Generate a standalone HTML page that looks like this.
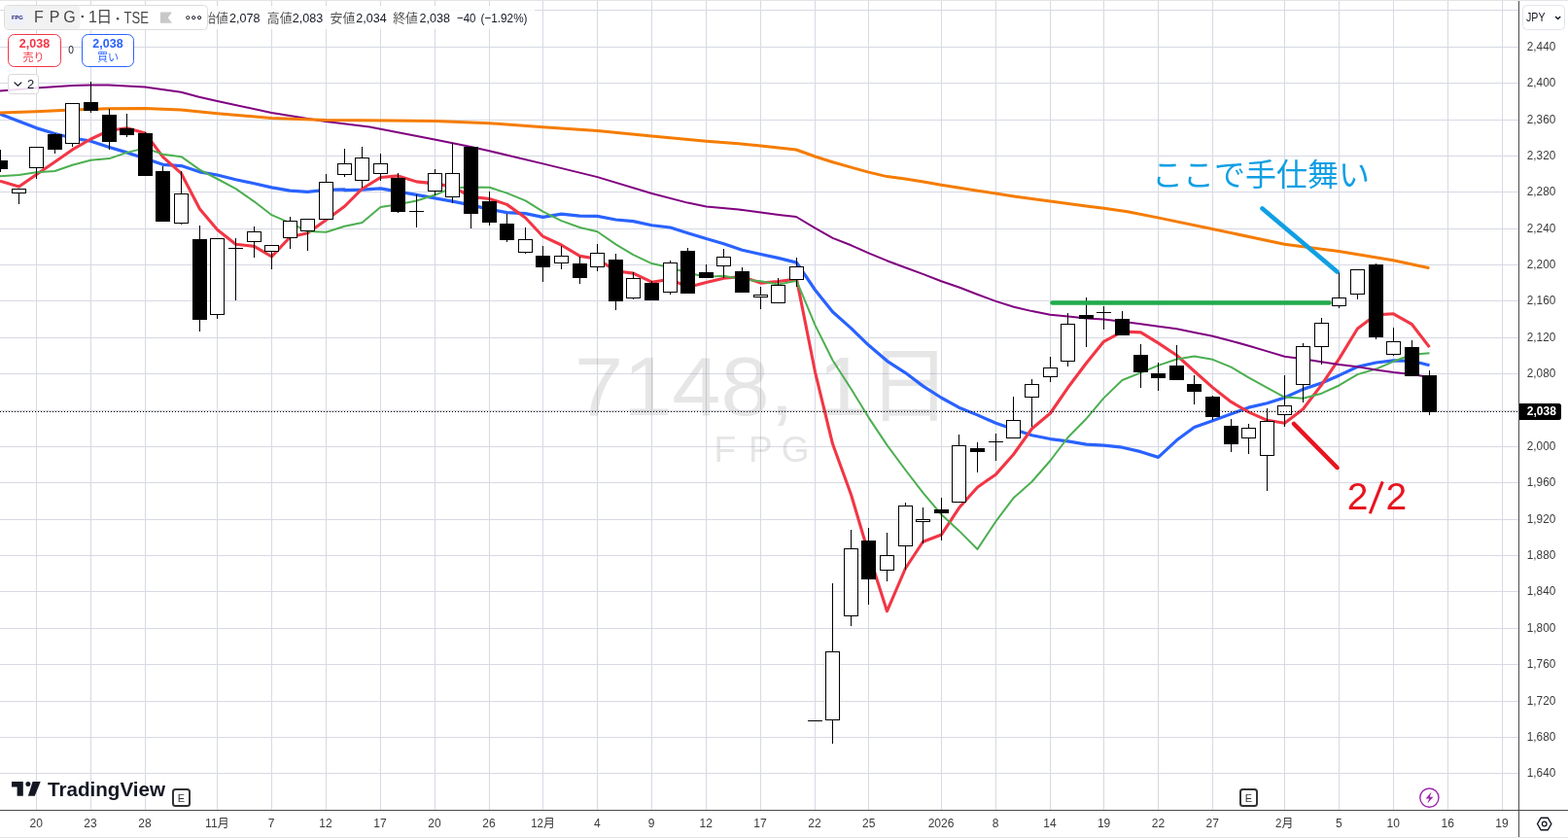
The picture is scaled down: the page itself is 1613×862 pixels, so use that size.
<!DOCTYPE html>
<html><head><meta charset="utf-8"><title>FPG chart</title>
<style>html,body{margin:0;padding:0;background:#fff;width:1613px;height:862px;overflow:hidden;font-family:"Liberation Sans",sans-serif}</style>
</head><body>
<svg width="1613" height="862" viewBox="0 0 1613 862" style="position:absolute;left:0;top:0;display:block;will-change:transform">
<rect width="1613" height="862" fill="#fff"/>
<text x="591" y="426.8" font-family="Liberation Sans, sans-serif" font-size="85" fill="#e6e6e6" textLength="301" lengthAdjust="spacingAndGlyphs">7148, 1</text>
<text x="893" y="426.8" font-family="'Liberation Sans', 'Noto Sans CJK JP', sans-serif" font-size="85" fill="#e6e6e6">日</text>
<text x="734.5" y="474.5" font-family="Liberation Sans, sans-serif" font-size="37" fill="#e6e6e6">F</text>
<text x="770" y="474.5" font-family="Liberation Sans, sans-serif" font-size="37" fill="#e6e6e6">P</text>
<text x="803.8" y="474.5" font-family="Liberation Sans, sans-serif" font-size="37" fill="#e6e6e6">G</text>
<path d="M0 795.5H1562.5M0 758.5H1562.5M0 721.5H1562.5M0 683.5H1562.5M0 646.5H1562.5M0 608.5H1562.5M0 571.5H1562.5M0 534.5H1562.5M0 496.5H1562.5M0 459.5H1562.5M0 422.5H1562.5M0 384.5H1562.5M0 347.5H1562.5M0 309.5H1562.5M0 272.5H1562.5M0 235.5H1562.5M0 197.5H1562.5M0 160.5H1562.5M0 123.5H1562.5M0 85.5H1562.5M0 48.5H1562.5M0 10.5H1562.5M37.5 0V833.5M93.5 0V833.5M149.5 0V833.5M223.5 0V833.5M279.5 0V833.5M335.5 0V833.5M391.5 0V833.5M447.5 0V833.5M503.5 0V833.5M558.5 0V833.5M614.5 0V833.5M670.5 0V833.5M726.5 0V833.5M782.5 0V833.5M838.5 0V833.5M893.5 0V833.5M968.5 0V833.5M1024.5 0V833.5M1080.5 0V833.5M1135.5 0V833.5M1191.5 0V833.5M1247.5 0V833.5M1321.5 0V833.5M1377.5 0V833.5M1433.5 0V833.5M1489.5 0V833.5M1545.5 0V833.5" stroke="rgba(100,110,150,0.26)" stroke-width="1" fill="none" shape-rendering="crispEdges"/>
<rect x="205" y="6" width="345" height="24" fill="#fff" opacity="0.8"/>
<path d="M0 117.2 L37.2 131.6 L56.4 137.5 L74.5 142 L93.4 145.2 L112.5 151.4 L130.6 156.9 L149.2 163.1 L167.6 169.3 L186.5 170.6 L205.3 176.8 L223.5 180 L242.6 184.7 L261.5 188.7 L279.6 192.9 L298.2 196.1 L316.3 197.4 L335.7 195.4 L354.3 194.9 L354.5 195.72 L372.5 195.15 L391.5 193.85 L409.5 197.16 L428.5 200.34 L447.5 203.94 L465.5 207.19 L484.5 210.88 L503.5 215.37 L521.5 218.67 L540.5 219.61 L558.5 223.38 L577.5 220.12 L596.5 222.14 L614.5 222.4 L633.5 225.97 L651.5 227.68 L670.5 231.74 L689.5 233.99 L707.5 239.71 L726.5 245.57 L744.5 250.67 L763.5 257.26 L782.5 261.56 L800.5 265.34 L819.5 270.13 L838.5 298.26 L856.5 320.81 L875.5 337.61 L893.5 355.06 L912.5 371.31 L931.5 383.59 L949.5 397.13 L968.5 409.25 L986.5 419.15 L1005.5 426.89 L1024.5 435.28 L1042.5 441.46 L1061.5 447.71 L1080.5 451.55 L1098.5 453.94 L1117.5 457.09 L1135.5 458.14 L1154.5 460.19 L1173.5 464.66 L1191.5 470.38 L1210.5 452.84 L1228.5 439.44 L1247.5 432.66 L1266.5 425.71 L1284.5 419.16 L1303.5 414.81 L1321.5 408.95 L1340.5 400.38 L1359.5 394.06 L1377.5 386.16 L1396.5 377.31 L1415.5 373.03 L1433.5 370.82 L1452.5 371.24 L1470.5 375.74" stroke="#2962ff" stroke-width="3.2" fill="none" stroke-linejoin="round" stroke-linecap="butt"/>
<path d="M0 186.2 L19.5 192.1 L37.5 179.6 L56.5 166.4 L74.5 153.9 L93.5 143 L112.5 134.2 L130.5 131.68 L149.5 137.08 L167.5 161.32 L186.5 178.44 L205.5 215.02 L223.5 236.3 L242.5 251.24 L261.5 253.34 L279.5 263.96 L298.5 243.7 L316.5 239.76 L335.5 226.16 L354.5 212.24 L372.5 194.24 L391.5 182.48 L409.5 180.9 L428.5 186.88 L447.5 188.88 L465.5 192.12 L484.5 202.34 L503.5 204.52 L521.5 210.38 L540.5 223.98 L558.5 243.2 L577.5 251.98 L596.5 263.4 L614.5 266.18 L633.5 278.8 L651.5 281.14 L670.5 290.18 L689.5 287.16 L707.5 295.4 L726.5 290.62 L744.5 286.2 L763.5 284.54 L782.5 291.14 L800.5 289.42 L819.5 287.12 L838.5 382.52 L856.5 456.56 L875.5 508.74 L893.5 569.24 L912.5 628.68 L931.5 584.5 L949.5 557.24 L968.5 549.94 L986.5 522.54 L1005.5 501.16 L1024.5 487.9 L1042.5 467.5 L1061.5 441.02 L1080.5 425 L1098.5 398.8 L1117.5 373.46 L1135.5 351.28 L1154.5 341.08 L1173.5 341.88 L1191.5 352.86 L1210.5 365.52 L1228.5 381.76 L1247.5 398.6 L1266.5 413.44 L1284.5 423.8 L1303.5 432.34 L1321.5 435.26 L1340.5 420.8 L1359.5 395.92 L1377.5 369.16 L1396.5 337.94 L1415.5 323.84 L1433.5 322.82 L1452.5 333.7 L1470.5 357.12" stroke="#f23645" stroke-width="3.1" fill="none" stroke-linejoin="round" stroke-linecap="butt"/>
<path d="M0 181.2 L19.4 180 L37.2 177.2 L56.4 176 L74.5 169.8 L93.4 164.8 L112.5 163.1 L130.6 156.9 L149.2 152.4 L167.5 158.64 L186.5 161.19 L205.5 174.61 L223.5 183.99 L242.5 194.16 L261.5 207.33 L279.5 221.2 L298.5 229.36 L316.5 238.03 L335.5 238.7 L354.5 232.79 L372.5 229.1 L391.5 213.09 L409.5 210.33 L428.5 206.52 L447.5 200.56 L465.5 193.18 L484.5 192.41 L503.5 192.71 L521.5 198.63 L540.5 206.43 L558.5 217.66 L577.5 227.16 L596.5 233.96 L614.5 238.28 L633.5 251.39 L651.5 262.17 L670.5 271.08 L689.5 275.28 L707.5 280.79 L726.5 284.71 L744.5 283.67 L763.5 287.36 L782.5 289.15 L800.5 292.41 L819.5 288.87 L838.5 334.36 L856.5 370.55 L875.5 399.94 L893.5 429.33 L912.5 457.9 L931.5 483.51 L949.5 506.9 L968.5 529.34 L986.5 545.89 L1005.5 564.92 L1024.5 536.2 L1042.5 512.37 L1061.5 495.48 L1080.5 473.77 L1098.5 449.98 L1117.5 430.68 L1135.5 409.39 L1154.5 391.05 L1173.5 383.44 L1191.5 375.83 L1210.5 369.49 L1228.5 366.52 L1247.5 369.84 L1266.5 377.66 L1284.5 388.33 L1303.5 398.93 L1321.5 408.51 L1340.5 409.7 L1359.5 404.68 L1377.5 396.48 L1396.5 385.14 L1415.5 379.55 L1433.5 371.81 L1452.5 364.81 L1470.5 363.14" stroke="#4caf50" stroke-width="2" fill="none" stroke-linejoin="round" stroke-linecap="butt"/>
<path d="M0 93.6 L37.2 90.4 L74.5 87.9 L93.4 87.4 L111.7 87.6 L149 89.4 L186.2 94.8 L204.8 99.8 L223.5 104 L279.3 115.9 L335.2 125.1 L380 130.4 L447 143.6 L484.3 151 L503.4 155.3 L558.5 168.4 L614.6 182.1 L670.5 199 L707.5 208.6 L726.6 212.4 L760 215.6 L782.6 218.6 L801 221 L819.1 223 L838.5 234.7 L856.6 244.9 L875.5 252.3 L893.6 260.3 L912.5 268.2 L931.3 275.2 L950 282.1 L968.3 289.3 L987.2 295.8 L1005.8 303 L1024.4 309.9 L1043 315.7 L1061.7 320.1 L1080.3 323.8 L1098.9 325.6 L1117.6 327.5 L1135.5 328.5 L1154.4 330.8 L1173.5 333.3 L1191.6 335.8 L1210.5 338.3 L1228.6 342 L1247.5 345.7 L1266.6 350.7 L1284.7 355.7 L1303.6 361.4 L1321.5 366.8 L1340.6 369.3 L1359.4 372.3 L1377.6 375 L1396.4 377.3 L1415.6 380.5 L1433.7 383 L1452.3 385 L1470.5 388" stroke="#800080" stroke-width="2.0" fill="none" stroke-linejoin="round" stroke-linecap="butt"/>
<path d="M0 115.9 L37.2 114.7 L74.5 113 L111.7 111.7 L149 111.5 L186.2 113 L223.5 116.7 L279.3 121.4 L335.2 123.4 L400 124.1 L447 124.5 L503.4 126.7 L558.5 130.7 L614.6 134.4 L670.5 139.9 L726.6 145.3 L760 147.8 L782.6 150 L819.1 154 L838.5 161 L856.6 166.7 L875.5 172.1 L893.6 177.1 L912.5 181.6 L931.3 184.1 L950 187 L968.3 190.3 L987.2 193.2 L1005.8 196.2 L1024.4 199 L1043 201.9 L1061.7 204.4 L1080.3 206.9 L1098.9 209.4 L1117.5 211.9 L1135.7 214.3 L1160 217.8 L1191 223.9 L1246.9 235.5 L1321.4 251.2 L1377.3 258.6 L1433.1 267.8 L1470.4 275.7" stroke="#f57c00" stroke-width="3.0" fill="none" stroke-linejoin="round" stroke-linecap="butt"/>
<path d="M0 154h1V165h-1zM0 174h1V177h-1zM19 199h1V210h-1zM37 173h1V184h-1zM56 137h1V138h-1zM56 154h1V158h-1zM74 148h1V151h-1zM93 84h1V105h-1zM93 114h1V116h-1zM112 112h1V118h-1zM112 146h1V154h-1zM130 117h1V132h-1zM130 139h1V141h-1zM149 136h1V137h-1zM167 171h1V176h-1zM186 176h1V199h-1zM186 230h1V231h-1zM205 232h1V246h-1zM205 329h1V341h-1zM223 324h1V328h-1zM235 255h15v1h-15zM242 245h1V309h-1zM261 233h1V238h-1zM261 249h1V265h-1zM279 259h1V277h-1zM298 223h1V227h-1zM298 245h1V256h-1zM316 238h1V258h-1zM335 179h1V187h-1zM354 153h1V168h-1zM354 180h1V182h-1zM372 151h1V162h-1zM372 186h1V193h-1zM391 158h1V168h-1zM391 179h1V186h-1zM409 178h1V183h-1zM409 218h1V219h-1zM421 217h15v1h-15zM428 200h1V234h-1zM447 174h1V178h-1zM447 197h1V201h-1zM465 147h1V178h-1zM465 203h1V209h-1zM484 220h1V235h-1zM503 197h1V207h-1zM503 229h1V232h-1zM521 220h1V230h-1zM521 247h1V249h-1zM540 234h1V246h-1zM540 260h1V261h-1zM558 253h1V263h-1zM558 275h1V290h-1zM577 253h1V263h-1zM577 271h1V277h-1zM596 264h1V271h-1zM596 286h1V292h-1zM614 251h1V260h-1zM614 275h1V279h-1zM633 261h1V267h-1zM633 310h1V319h-1zM651 280h1V286h-1zM651 307h1V308h-1zM670 289h1V291h-1zM689 268h1V270h-1zM689 301h1V303h-1zM707 255h1V258h-1zM726 272h1V280h-1zM744 256h1V264h-1zM744 274h1V286h-1zM763 275h1V279h-1zM782 295h1V303h-1zM782 306h1V318h-1zM800 286h1V293h-1zM819 265h1V274h-1zM819 288h1V295h-1zM831 741h15v1h-15zM856 600h1V670h-1zM856 741h1V765h-1zM875 545h1V564h-1zM875 634h1V644h-1zM893 543h1V556h-1zM893 596h1V622h-1zM912 548h1V571h-1zM912 587h1V598h-1zM931 517h1V520h-1zM931 562h1V586h-1zM949 522h1V534h-1zM949 537h1V559h-1zM968 512h1V524h-1zM968 528h1V556h-1zM986 447h1V458h-1zM1005 455h1V461h-1zM1005 465h1V486h-1zM1017 454h15v1h-15zM1024 446h1V474h-1zM1042 408h1V432h-1zM1061 390h1V395h-1zM1061 409h1V439h-1zM1080 367h1V378h-1zM1080 388h1V393h-1zM1098 322h1V333h-1zM1098 372h1V377h-1zM1117 306h1V324h-1zM1117 328h1V357h-1zM1128 321h15v1h-15zM1135 315h1V339h-1zM1154 320h1V328h-1zM1173 354h1V365h-1zM1173 383h1V399h-1zM1191 373h1V384h-1zM1191 389h1V402h-1zM1210 355h1V376h-1zM1228 386h1V395h-1zM1228 403h1V416h-1zM1247 407h1V408h-1zM1247 429h1V432h-1zM1266 431h1V438h-1zM1266 457h1V465h-1zM1284 436h1V440h-1zM1284 451h1V467h-1zM1303 420h1V433h-1zM1303 469h1V505h-1zM1321 386h1V417h-1zM1321 427h1V439h-1zM1340 353h1V356h-1zM1340 396h1V414h-1zM1359 327h1V332h-1zM1359 357h1V375h-1zM1377 280h1V306h-1zM1377 315h1V317h-1zM1396 303h1V308h-1zM1415 271h1V272h-1zM1415 347h1V349h-1zM1433 337h1V351h-1zM1433 365h1V366h-1zM1452 350h1V357h-1zM1470 381h1V386h-1zM1470 424h1V427h-1z" fill="#000" shape-rendering="crispEdges"/>
<path d="M-7 165h15V174h-15zM49 138h15V154h-15zM86 105h15V114h-15zM105 118h15V146h-15zM123 132h15V139h-15zM142 137h15V181h-15zM160 176h15V228h-15zM198 246h15V329h-15zM402 183h15V218h-15zM477 151h15V220h-15zM496 207h15V229h-15zM514 230h15V247h-15zM551 263h15V275h-15zM589 271h15V286h-15zM626 267h15V310h-15zM663 291h15V309h-15zM700 258h15V302h-15zM719 280h15V286h-15zM756 279h15V301h-15zM886 556h15V596h-15zM961 524h15V528h-15zM998 461h15V465h-15zM1110 324h15V328h-15zM1147 328h15V345h-15zM1166 365h15V383h-15zM1184 384h15V389h-15zM1203 376h15V391h-15zM1221 395h15V403h-15zM1240 408h15V429h-15zM1259 438h15V457h-15zM1408 272h15V347h-15zM1445 357h15V387h-15zM1463 386h15V424h-15z" fill="#000" shape-rendering="crispEdges"/>
<path d="M12.5 194.5h14V198.5h-14zM30.5 151.5h14V172.5h-14zM67.5 106.5h14V147.5h-14zM179.5 199.5h14V229.5h-14zM216.5 245.5h14V323.5h-14zM254.5 238.5h14V248.5h-14zM272.5 252.5h14V258.5h-14zM291.5 227.5h14V244.5h-14zM309.5 225.5h14V237.5h-14zM328.5 187.5h14V225.5h-14zM347.5 168.5h14V179.5h-14zM365.5 162.5h14V185.5h-14zM384.5 168.5h14V178.5h-14zM440.5 178.5h14V196.5h-14zM458.5 178.5h14V202.5h-14zM533.5 246.5h14V259.5h-14zM570.5 263.5h14V270.5h-14zM607.5 260.5h14V274.5h-14zM644.5 286.5h14V306.5h-14zM682.5 270.5h14V300.5h-14zM737.5 264.5h14V273.5h-14zM775.5 303.5h14V305.5h-14zM793.5 293.5h14V311.5h-14zM812.5 274.5h14V287.5h-14zM849.5 670.5h14V740.5h-14zM868.5 564.5h14V633.5h-14zM905.5 571.5h14V586.5h-14zM924.5 520.5h14V561.5h-14zM942.5 534.5h14V536.5h-14zM979.5 458.5h14V516.5h-14zM1035.5 432.5h14V450.5h-14zM1054.5 395.5h14V408.5h-14zM1073.5 378.5h14V387.5h-14zM1091.5 333.5h14V371.5h-14zM1277.5 440.5h14V450.5h-14zM1296.5 433.5h14V468.5h-14zM1314.5 417.5h14V426.5h-14zM1333.5 356.5h14V395.5h-14zM1352.5 332.5h14V356.5h-14zM1370.5 306.5h14V314.5h-14zM1389.5 277.5h14V302.5h-14zM1426.5 351.5h14V364.5h-14z" fill="#fff" stroke="#000" stroke-width="1" shape-rendering="crispEdges"/>
<path d="M1082.5 311.5H1367.5" stroke="#22ab4a" stroke-width="4.6" stroke-linecap="round" fill="none"/>
<path d="M1298.5 214.5L1375.5 279.5" stroke="#109fe3" stroke-width="4.6" stroke-linecap="round" fill="none"/>
<path d="M1331 436L1375.5 481" stroke="#e8141f" stroke-width="4.6" stroke-linecap="round" fill="none"/>
<text x="1185" y="191" font-family="'Liberation Sans', 'Noto Sans CJK JP', sans-serif" font-size="32" fill="#109fe3" textLength="224" lengthAdjust="spacingAndGlyphs">ここで手仕舞い</text>
<text x="1385.7" y="524.3" font-family="Liberation Sans, sans-serif" font-size="39" fill="#e8141f">2</text>
<text x="1425.6" y="524.3" font-family="Liberation Sans, sans-serif" font-size="39" fill="#e8141f">2</text>
<path d="M1422.3 495.4L1409.3 528.2" stroke="#e8141f" stroke-width="3.1" fill="none"/>
<path d="M0 423.5H1562.5" stroke="#000" stroke-width="1" stroke-dasharray="1 2" fill="none" shape-rendering="crispEdges"/>
<rect x="1563" y="0" width="50.5" height="862" fill="#fff"/>
<rect x="0" y="834" width="1613" height="28.5" fill="#fff"/>
<path d="M1562.5 0V862M0 833.5H1613" stroke="#4a4a4a" stroke-width="1" fill="none" shape-rendering="crispEdges"/>
<text x="1570.8" y="798.8" font-family="Liberation Sans, sans-serif" font-size="12.5" fill="#3a3a3a" textLength="29.4" lengthAdjust="spacingAndGlyphs">1,640</text>
<text x="1570.8" y="761.8" font-family="Liberation Sans, sans-serif" font-size="12.5" fill="#3a3a3a" textLength="29.4" lengthAdjust="spacingAndGlyphs">1,680</text>
<text x="1570.8" y="724.8" font-family="Liberation Sans, sans-serif" font-size="12.5" fill="#3a3a3a" textLength="29.4" lengthAdjust="spacingAndGlyphs">1,720</text>
<text x="1570.8" y="686.8" font-family="Liberation Sans, sans-serif" font-size="12.5" fill="#3a3a3a" textLength="29.4" lengthAdjust="spacingAndGlyphs">1,760</text>
<text x="1570.8" y="649.8" font-family="Liberation Sans, sans-serif" font-size="12.5" fill="#3a3a3a" textLength="29.4" lengthAdjust="spacingAndGlyphs">1,800</text>
<text x="1570.8" y="611.8" font-family="Liberation Sans, sans-serif" font-size="12.5" fill="#3a3a3a" textLength="29.4" lengthAdjust="spacingAndGlyphs">1,840</text>
<text x="1570.8" y="574.8" font-family="Liberation Sans, sans-serif" font-size="12.5" fill="#3a3a3a" textLength="29.4" lengthAdjust="spacingAndGlyphs">1,880</text>
<text x="1570.8" y="537.8" font-family="Liberation Sans, sans-serif" font-size="12.5" fill="#3a3a3a" textLength="29.4" lengthAdjust="spacingAndGlyphs">1,920</text>
<text x="1570.8" y="499.8" font-family="Liberation Sans, sans-serif" font-size="12.5" fill="#3a3a3a" textLength="29.4" lengthAdjust="spacingAndGlyphs">1,960</text>
<text x="1570.8" y="462.8" font-family="Liberation Sans, sans-serif" font-size="12.5" fill="#3a3a3a" textLength="29.4" lengthAdjust="spacingAndGlyphs">2,000</text>
<text x="1570.8" y="387.8" font-family="Liberation Sans, sans-serif" font-size="12.5" fill="#3a3a3a" textLength="29.4" lengthAdjust="spacingAndGlyphs">2,080</text>
<text x="1570.8" y="350.8" font-family="Liberation Sans, sans-serif" font-size="12.5" fill="#3a3a3a" textLength="29.4" lengthAdjust="spacingAndGlyphs">2,120</text>
<text x="1570.8" y="312.8" font-family="Liberation Sans, sans-serif" font-size="12.5" fill="#3a3a3a" textLength="29.4" lengthAdjust="spacingAndGlyphs">2,160</text>
<text x="1570.8" y="275.8" font-family="Liberation Sans, sans-serif" font-size="12.5" fill="#3a3a3a" textLength="29.4" lengthAdjust="spacingAndGlyphs">2,200</text>
<text x="1570.8" y="238.8" font-family="Liberation Sans, sans-serif" font-size="12.5" fill="#3a3a3a" textLength="29.4" lengthAdjust="spacingAndGlyphs">2,240</text>
<text x="1570.8" y="200.8" font-family="Liberation Sans, sans-serif" font-size="12.5" fill="#3a3a3a" textLength="29.4" lengthAdjust="spacingAndGlyphs">2,280</text>
<text x="1570.8" y="163.8" font-family="Liberation Sans, sans-serif" font-size="12.5" fill="#3a3a3a" textLength="29.4" lengthAdjust="spacingAndGlyphs">2,320</text>
<text x="1570.8" y="126.8" font-family="Liberation Sans, sans-serif" font-size="12.5" fill="#3a3a3a" textLength="29.4" lengthAdjust="spacingAndGlyphs">2,360</text>
<text x="1570.8" y="88.8" font-family="Liberation Sans, sans-serif" font-size="12.5" fill="#3a3a3a" textLength="29.4" lengthAdjust="spacingAndGlyphs">2,400</text>
<text x="1570.8" y="51.8" font-family="Liberation Sans, sans-serif" font-size="12.5" fill="#3a3a3a" textLength="29.4" lengthAdjust="spacingAndGlyphs">2,440</text>
<path d="M1563 415h40.5a2.5 2.5 0 0 1 2.5 2.5v12a2.5 2.5 0 0 1 -2.5 2.5h-40.5z" fill="#000"/>
<text x="1570.8" y="427.2" font-family="Liberation Sans, sans-serif" font-size="12.6" font-weight="bold" fill="#fff" textLength="30" lengthAdjust="spacingAndGlyphs">2,038</text>
<text x="37.2" y="851.3" font-family="Liberation Sans, sans-serif" font-size="12" fill="#3a3a3a" text-anchor="middle">20</text>
<text x="93" y="851.3" font-family="Liberation Sans, sans-serif" font-size="12" fill="#3a3a3a" text-anchor="middle">23</text>
<text x="149" y="851.3" font-family="Liberation Sans, sans-serif" font-size="12" fill="#3a3a3a" text-anchor="middle">28</text>
<text x="211" y="851.3" font-family="Liberation Sans, sans-serif" font-size="12" fill="#3a3a3a" textLength="12.8" lengthAdjust="spacingAndGlyphs">11</text>
<text x="223.8" y="851.3" font-family="'Liberation Sans', 'Noto Sans CJK JP', sans-serif" font-size="12" fill="#3a3a3a">月</text>
<text x="279.2" y="851.3" font-family="Liberation Sans, sans-serif" font-size="12" fill="#3a3a3a" text-anchor="middle">7</text>
<text x="335" y="851.3" font-family="Liberation Sans, sans-serif" font-size="12" fill="#3a3a3a" text-anchor="middle">12</text>
<text x="391" y="851.3" font-family="Liberation Sans, sans-serif" font-size="12" fill="#3a3a3a" text-anchor="middle">17</text>
<text x="447" y="851.3" font-family="Liberation Sans, sans-serif" font-size="12" fill="#3a3a3a" text-anchor="middle">20</text>
<text x="503" y="851.3" font-family="Liberation Sans, sans-serif" font-size="12" fill="#3a3a3a" text-anchor="middle">26</text>
<text x="546.2" y="851.3" font-family="Liberation Sans, sans-serif" font-size="12" fill="#3a3a3a" textLength="12.8" lengthAdjust="spacingAndGlyphs">12</text>
<text x="559" y="851.3" font-family="'Liberation Sans', 'Noto Sans CJK JP', sans-serif" font-size="12" fill="#3a3a3a">月</text>
<text x="614.4" y="851.3" font-family="Liberation Sans, sans-serif" font-size="12" fill="#3a3a3a" text-anchor="middle">4</text>
<text x="670.2" y="851.3" font-family="Liberation Sans, sans-serif" font-size="12" fill="#3a3a3a" text-anchor="middle">9</text>
<text x="726.2" y="851.3" font-family="Liberation Sans, sans-serif" font-size="12" fill="#3a3a3a" text-anchor="middle">12</text>
<text x="782" y="851.3" font-family="Liberation Sans, sans-serif" font-size="12" fill="#3a3a3a" text-anchor="middle">17</text>
<text x="838" y="851.3" font-family="Liberation Sans, sans-serif" font-size="12" fill="#3a3a3a" text-anchor="middle">22</text>
<text x="893.8" y="851.3" font-family="Liberation Sans, sans-serif" font-size="12" fill="#3a3a3a" text-anchor="middle">25</text>
<text x="968" y="851.3" font-family="Liberation Sans, sans-serif" font-size="12" fill="#3a3a3a" text-anchor="middle">2026</text>
<text x="1024.2" y="851.3" font-family="Liberation Sans, sans-serif" font-size="12" fill="#3a3a3a" text-anchor="middle">8</text>
<text x="1080" y="851.3" font-family="Liberation Sans, sans-serif" font-size="12" fill="#3a3a3a" text-anchor="middle">14</text>
<text x="1135.6" y="851.3" font-family="Liberation Sans, sans-serif" font-size="12" fill="#3a3a3a" text-anchor="middle">19</text>
<text x="1191.4" y="851.3" font-family="Liberation Sans, sans-serif" font-size="12" fill="#3a3a3a" text-anchor="middle">22</text>
<text x="1247.2" y="851.3" font-family="Liberation Sans, sans-serif" font-size="12" fill="#3a3a3a" text-anchor="middle">27</text>
<text x="1312.1" y="851.3" font-family="Liberation Sans, sans-serif" font-size="12" fill="#3a3a3a" textLength="6.4" lengthAdjust="spacingAndGlyphs">2</text>
<text x="1318.5" y="851.3" font-family="'Liberation Sans', 'Noto Sans CJK JP', sans-serif" font-size="12" fill="#3a3a3a">月</text>
<text x="1377.3" y="851.3" font-family="Liberation Sans, sans-serif" font-size="12" fill="#3a3a3a" text-anchor="middle">5</text>
<text x="1433.3" y="851.3" font-family="Liberation Sans, sans-serif" font-size="12" fill="#3a3a3a" text-anchor="middle">10</text>
<text x="1489.2" y="851.3" font-family="Liberation Sans, sans-serif" font-size="12" fill="#3a3a3a" text-anchor="middle">16</text>
<text x="1545" y="851.3" font-family="Liberation Sans, sans-serif" font-size="12" fill="#3a3a3a" text-anchor="middle">19</text>
<rect x="1566.5" y="5.5" width="43" height="25" rx="4" fill="#fff" stroke="#e0e3eb"/>
<text x="1570" y="22.3" font-family="Liberation Sans, sans-serif" font-size="13" fill="#131722" textLength="19.5" lengthAdjust="spacingAndGlyphs">JPY</text>
<path d="M1600 17l2.6 2.6l2.6 -2.6" stroke="#131722" stroke-width="1.4" fill="none"/>
<path d="M1581.5 847.5l3.6 -6.2h7.2l3.6 6.2l-3.6 6.2h-7.2z" stroke="#131722" stroke-width="1.4" fill="none" stroke-linejoin="round"/><circle cx="1588.7" cy="847.5" r="2.3" stroke="#131722" stroke-width="1.3" fill="none"/>
<path d="M12 804h11.8v14.8h-6.2v-9.2h-5.6z" fill="#131722"/><circle cx="28.9" cy="806.6" r="2.5" fill="#131722"/><path d="M33.6 804h8.1l-5.9 14.8h-6.9z" fill="#131722"/>
<text x="49" y="818.8" font-family="Liberation Sans, sans-serif" font-size="20.5" font-weight="bold" fill="#131722" textLength="121" lengthAdjust="spacingAndGlyphs">TradingView</text>
<rect x="178" y="812" width="17" height="17" rx="2.5" fill="#fff" stroke="#333" stroke-width="2"/>
<text x="186.5" y="824.6" font-family="Liberation Sans, sans-serif" font-size="11" fill="#333" text-anchor="middle">E</text>
<rect x="1276" y="812" width="17" height="17" rx="2.5" fill="#fff" stroke="#333" stroke-width="2"/>
<text x="1284.5" y="824.6" font-family="Liberation Sans, sans-serif" font-size="11" fill="#333" text-anchor="middle">E</text>
<circle cx="1470.4" cy="820.6" r="9.6" fill="#fff" stroke="#9c27b0" stroke-width="1.4"/><path d="M1472.6 814.6l-6 6.8h3.6l-1.8 5.2l6 -6.8h-3.6z" fill="#9c27b0"/>
<rect x="4.5" y="5.5" width="209" height="25" rx="4" fill="#fff" stroke="#dcdcdc"/>
<rect x="5" y="6" width="77.5" height="24" rx="3.5" fill="#f2f2f2"/>
<circle cx="17.9" cy="17.9" r="8.6" fill="#eef0fb"/>
<text x="17.9" y="20" font-family="Liberation Sans, sans-serif" font-size="5.6" font-weight="bold" fill="#1c1c6c" text-anchor="middle" textLength="12" lengthAdjust="spacingAndGlyphs">FPG</text>
<text x="34.9" y="23" font-family="Liberation Sans, sans-serif" font-size="16" fill="#484848">F</text>
<text x="50.8" y="23" font-family="Liberation Sans, sans-serif" font-size="16" fill="#484848">P</text>
<text x="65.2" y="23" font-family="Liberation Sans, sans-serif" font-size="16" fill="#484848">G</text>
<circle cx="84.8" cy="17" r="1.25" fill="#484848"/>
<text x="91" y="23.4" font-family="Liberation Sans, sans-serif" font-size="16" fill="#484848">1</text>
<text x="99.3" y="23.4" font-family="'Liberation Sans', 'Noto Sans CJK JP', sans-serif" font-size="16" fill="#484848">日</text>
<circle cx="121.1" cy="19.2" r="1.25" fill="#484848"/>
<text x="127.6" y="23.8" font-family="Liberation Sans, sans-serif" font-size="16" fill="#484848" textLength="25.4" lengthAdjust="spacingAndGlyphs">TSE</text>
<path d="M165 12.6h12l-4.2 5.6l4.2 5.6h-12z" fill="#c8c8c8"/>
<circle cx="193.3" cy="18.2" r="1.6" fill="none" stroke="#131722" stroke-width="1"/>
<circle cx="199.2" cy="18.2" r="1.6" fill="none" stroke="#131722" stroke-width="1"/>
<circle cx="205.1" cy="18.2" r="1.6" fill="none" stroke="#131722" stroke-width="1"/>
<clipPath id="lc"><rect x="214.3" y="0" width="400" height="40"/></clipPath>
<g clip-path="url(#lc)">
<text x="209" y="23" font-family="'Liberation Sans', 'Noto Sans CJK JP', sans-serif" font-size="13" fill="#555" textLength="25.8" lengthAdjust="spacingAndGlyphs">始値</text>
<text x="236" y="23.3" font-family="Liberation Sans, sans-serif" font-size="13" fill="#131722" textLength="31.5" lengthAdjust="spacingAndGlyphs">2,078</text>
<text x="274.8" y="23" font-family="'Liberation Sans', 'Noto Sans CJK JP', sans-serif" font-size="13" fill="#555" textLength="25.8" lengthAdjust="spacingAndGlyphs">高値</text>
<text x="300.8" y="23.3" font-family="Liberation Sans, sans-serif" font-size="13" fill="#131722" textLength="31.5" lengthAdjust="spacingAndGlyphs">2,083</text>
<text x="339.6" y="23" font-family="'Liberation Sans', 'Noto Sans CJK JP', sans-serif" font-size="13" fill="#555" textLength="25.8" lengthAdjust="spacingAndGlyphs">安値</text>
<text x="366.2" y="23.3" font-family="Liberation Sans, sans-serif" font-size="13" fill="#131722" textLength="31.5" lengthAdjust="spacingAndGlyphs">2,034</text>
<text x="404.2" y="23" font-family="'Liberation Sans', 'Noto Sans CJK JP', sans-serif" font-size="13" fill="#555" textLength="25.8" lengthAdjust="spacingAndGlyphs">終値</text>
<text x="431.4" y="23.3" font-family="Liberation Sans, sans-serif" font-size="13" fill="#131722" textLength="31.5" lengthAdjust="spacingAndGlyphs">2,038</text>
<text x="470" y="23.3" font-family="Liberation Sans, sans-serif" font-size="13" fill="#131722" textLength="19.5" lengthAdjust="spacingAndGlyphs">−40</text>
<text x="494.5" y="23.3" font-family="Liberation Sans, sans-serif" font-size="13" fill="#131722" textLength="48" lengthAdjust="spacingAndGlyphs">(−1.92%)</text>
</g>
<rect x="8.5" y="35.5" width="54" height="33" rx="6" fill="#fff" stroke="#f23645"/>
<text x="35.5" y="49" font-family="Liberation Sans, sans-serif" font-size="12.5" font-weight="bold" fill="#f23645" text-anchor="middle">2,038</text>
<text x="34.5" y="63.4" font-family="'Liberation Sans', 'Noto Sans CJK JP', sans-serif" font-size="11" fill="#f23645" text-anchor="middle">売り</text>
<text x="73.2" y="55.2" font-family="Liberation Sans, sans-serif" font-size="10.2" fill="#131722" text-anchor="middle">0</text>
<rect x="84.5" y="35.5" width="53" height="33" rx="6" fill="#fff" stroke="#2962ff"/>
<text x="111" y="49" font-family="Liberation Sans, sans-serif" font-size="12.5" font-weight="bold" fill="#2962ff" text-anchor="middle">2,038</text>
<text x="111" y="63.4" font-family="'Liberation Sans', 'Noto Sans CJK JP', sans-serif" font-size="11" fill="#2962ff" text-anchor="middle">買い</text>
<rect x="8.5" y="76.5" width="31" height="20" rx="3" fill="#fff" fill-opacity="0.85" stroke="#d9d9d9"/>
<path d="M14.6 84.6l3.8 3.6l3.8 -3.6" stroke="#131722" stroke-width="1.3" fill="none"/>
<text x="28" y="91" font-family="Liberation Sans, sans-serif" font-size="13" fill="#131722">2</text>
<path d="M0 0.5H1613" stroke="#e4e4e4" stroke-width="1" shape-rendering="crispEdges"/>
<path d="M0 861.5H1613" stroke="#e4e4e4" stroke-width="1" shape-rendering="crispEdges"/>
</svg>
</body></html>
